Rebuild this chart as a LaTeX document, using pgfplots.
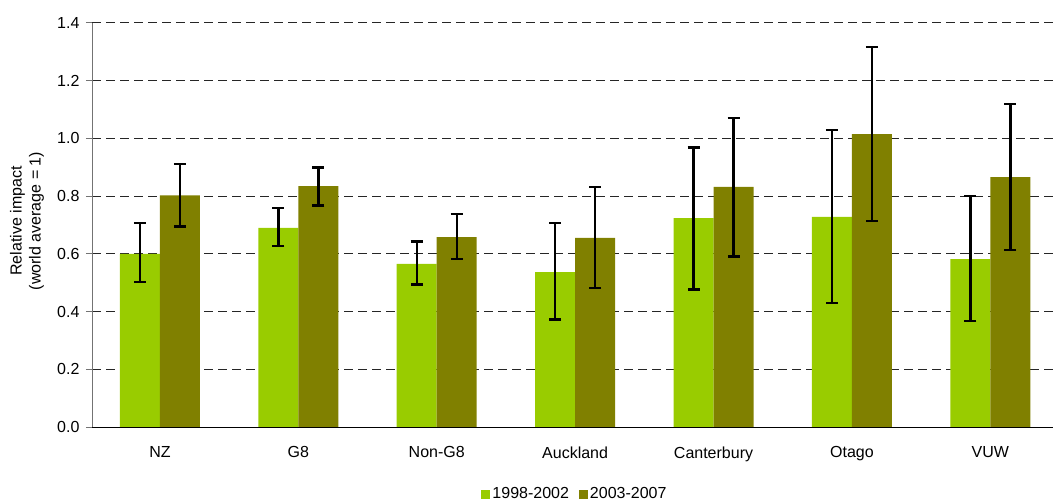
\documentclass[border=0pt]{standalone}
\usepackage{pgfplots}
\usepackage{pgfplotstable}
\pgfplotsset{compat=1.18}
\usepackage{fontspec}
\setmainfont{Liberation Sans}

\definecolor{earlygreen}{HTML}{99CC00}
\definecolor{lateolive}{HTML}{808000}

% columns: category index, relative impact, upper and lower error
\pgfplotstableread{
x y ep em
0 0.600 0.106 0.098
1 0.690 0.069 0.062
2 0.565 0.078 0.071
3 0.537 0.169 0.164
4 0.724 0.245 0.248
5 0.728 0.301 0.298
6 0.582 0.218 0.215
}\earlydata

\pgfplotstableread{
x y ep em
0 0.803 0.109 0.108
1 0.835 0.064 0.068
2 0.658 0.080 0.075
3 0.655 0.177 0.174
4 0.832 0.238 0.241
5 1.015 0.302 0.302
6 0.866 0.253 0.252
}\latedata

\begin{document}
\fontsize{16bp}{19bp}\selectfont
\begin{tikzpicture}
\useasboundingbox (0,0) rectangle (1053bp,504bp);
\begin{axis}[
  at={(92bp,77bp)}, anchor=south west,
  scale only axis,
  width=961bp, height=404bp,
  ybar=0pt, bar width=40bp,
  xmin=-0.491, xmax=6.453,
  ymin=0, ymax=1.4,
  ytick={0,0.2,...,1.4},
  xtick={0,...,6},
  xticklabels={NZ,G8,Non-G8,Auckland,Canterbury,Otago,VUW},
  minor xtick={0.5,1.5,...,5.5},
  axis x line*=bottom, axis y line*=left,
  axis line style={-},
  x axis line style={black, line width=1bp},
  y axis line style={black!55, line width=1bp},
  tick align=outside,
  major tick length=6bp, minor tick length=5bp,
  ytick style={black!55, line width=1bp},
  xtick style={draw=none},
  minor x tick style={black!55, line width=1bp},
  ymajorgrids,
  grid style={black!85, line width=1bp, dash pattern=on 9bp off 5bp},
  /pgf/number format/assume math mode=true,
  yticklabel style={/pgf/number format/fixed, /pgf/number format/fixed zerofill,
    /pgf/number format/precision=1, xshift=-1bp},
  xticklabel style={yshift=-8bp},
  ylabel={Relative impact\\(world average = 1)},
  ylabel style={align=center, at={(axis description cs:-0.0677,0.51)}, anchor=center, rotate=0},
  legend style={at={(0.5026,-0.166)}, anchor=center, draw=none, fill=none,
    legend columns=2, /tikz/every even column/.append style={column sep=8bp},
    inner sep=0pt, font=\fontsize{16bp}{19bp}\selectfont},
  legend image code/.code={\fill[#1] (0bp,-4.5bp) rectangle (9bp,4.5bp);},
  error bars/y dir=both,
  error bars/y explicit,
  error bars/error bar style={black, line width=2.4bp},
  error bars/error mark options={rotate=90, mark size=6bp, line width=2.4bp, black},
]
\addplot[fill=earlygreen, draw=none]
  table[x=x, y=y, y error plus=ep, y error minus=em] {\earlydata};
\addlegendentry{1998-2002}
\addplot[fill=lateolive, draw=none]
  table[x=x, y=y, y error plus=ep, y error minus=em] {\latedata};
\addlegendentry{2003-2007}
\end{axis}
\end{tikzpicture}
\end{document}
